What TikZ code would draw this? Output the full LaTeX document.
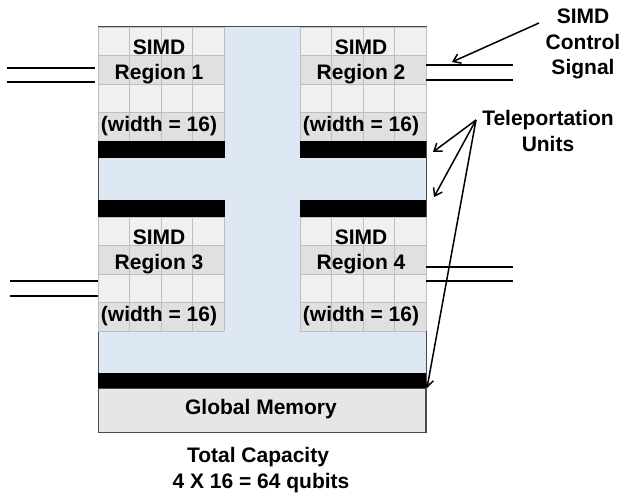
\documentclass[tikz,border=0pt]{standalone}
\usepackage{fontspec}
\setmainfont{Liberation Sans}[BoldFont={Liberation Sans Bold}]
\usetikzlibrary{arrows.meta}
\definecolor{bluefill}{HTML}{DEE8F4}
\definecolor{cellA}{HTML}{F0F0F0}
\definecolor{cellB}{HTML}{E0E0E0}
\definecolor{gridc}{HTML}{BEBEBE}
\definecolor{framec}{HTML}{4A4A4A}
\definecolor{gmfill}{HTML}{E6E6E6}
\tikzset{
  lbl/.style={font=\fontsize{21}{25}\selectfont\bfseries, inner sep=0pt, anchor=base},
  sig/.style={line width=1.4pt, black},
  arr/.style={line width=1.5pt, -{Straight Barb[length=7pt,width=10pt]}},
  bar/.style={fill=black, draw=none},
  gridline/.style={gridc, line width=0.9pt},
}
\newcommand{\simdgrid}[2]{% x0, y0 (top-left), 4x4 cells 31.5 x 28.5
  \begin{scope}[shift={(#1,#2)}]
  \fill[cellA] (0,0) rectangle (126,114);
  \fill[cellB] (0,28.5) rectangle (126,57);
  \fill[cellB] (0,85.5) rectangle (126,114);
  \foreach \gx in {0,31.5,63,94.5,126} {\draw[gridline] (\gx,0) -- (\gx,114);}
  \foreach \gy in {0,28.5,57,85.5,114} {\draw[gridline] (0,\gy) -- (126,\gy);}
  \end{scope}
}
\begin{document}
\begin{tikzpicture}[x=1pt,y=-1pt]
\useasboundingbox (0,0) rectangle (622,497);
% outer area
\fill[bluefill] (98,27) rectangle (426,389);
\draw[framec, line width=1pt] (98,27) rectangle (426,433);
% regions
\simdgrid{98}{27}
\simdgrid{300}{27}
\simdgrid{98}{217}
\simdgrid{300}{217}
% teleportation bars
\fill[bar] (98,141) rectangle (225,158);
\fill[bar] (300,141) rectangle (426,158);
\fill[bar] (98,200) rectangle (225,217);
\fill[bar] (300,200) rectangle (426,217);
\fill[bar] (98,373) rectangle (426,389);
% global memory
\draw[framec, fill=gmfill, line width=1pt] (98,389) rectangle (425,433);
\node[lbl] (gm) at (261,415) {Global Memory};
% region labels
\node[lbl] (s1) at (159,55) {SIMD};
\node[lbl] (r1) at (159,80) {Region 1};
\node[lbl] (w1) at (159,132) {(width = 16)};
\node[lbl] (s2) at (361,55) {SIMD};
\node[lbl] (r2) at (361,80) {Region 2};
\node[lbl] (w2) at (361,132) {(width = 16)};
\node[lbl] (s3) at (159,245) {SIMD};
\node[lbl] (r3) at (159,270) {Region 3};
\node[lbl] (w3) at (159,322) {(width = 16)};
\node[lbl] (s4) at (361,245) {SIMD};
\node[lbl] (r4) at (361,270) {Region 4};
\node[lbl] (w4) at (361,322) {(width = 16)};
% control signals
\draw[sig] (7,68) -- (95,68);
\draw[sig] (7,82) -- (95,82);
\draw[sig] (426,65) -- (513,65);
\draw[sig] (426,80) -- (513,80);
\draw[sig] (10,281) -- (98,281);
\draw[sig] (10,296) -- (98,296);
\draw[sig] (426,267) -- (513,267);
\draw[sig] (426,281) -- (513,281);
% labels on right
\node[lbl] (ctl1) at (583,24) {SIMD};
\node[lbl] (ctl2) at (583,50) {Control};
\node[lbl] (ctl3) at (583,75) {Signal};
\node[lbl] (tel1) at (548,126) {Teleportation};
\node[lbl] (tel2) at (548,152) {Units};
\coordinate (ca) at (539,23);
\coordinate (ce) at (452,62);
\draw[arr] (ca) -- (ce);
\coordinate (ta) at (476,120);
\coordinate (t1) at (433,152);
\coordinate (t2) at (434,197);
\coordinate (t3) at (427,388);
\draw[arr] (ta) -- (t1);
\draw[arr] (ta) -- (t2);
\draw[arr] (ta) -- (t3);
% total capacity
\node[lbl] (tc) at (258,463) {Total Capacity};
\node[lbl] (tq) at (261,488) {4 X 16 = 64 qubits};
\end{tikzpicture}
\end{document}
